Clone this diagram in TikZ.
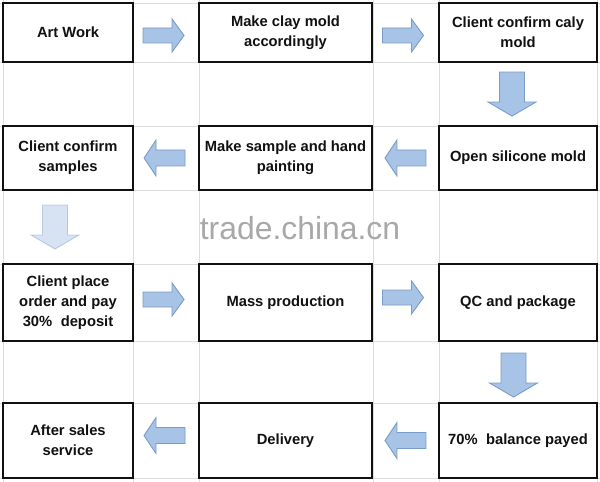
\documentclass[tikz,border=0pt]{standalone}
\usepackage{fontspec}
\setmainfont{Liberation Sans}
\usetikzlibrary{calc}
\definecolor{gridc}{HTML}{DCDCDC}
\definecolor{afill}{HTML}{A7C3E6}
\definecolor{aline}{HTML}{7A9CC9}
\definecolor{txt}{HTML}{111111}
\definecolor{wmc}{HTML}{A8A8A8}
\tikzset{
 stepbox/.style={draw=txt, line width=1.8bp, fill=white, rectangle, inner sep=0pt, align=center,
   font=\fontsize{14.8}{19.8}\selectfont\bfseries, text=txt},
 blockarrow/.style={fill=afill, draw=aline, line width=0.9bp, line join=miter},
 gridline/.style={draw=gridc, line width=0.8bp},
 rarrow/.pic={\path[blockarrow] (-20.5,-7.5) -- (8.5,-7.5) -- (8.5,-16.5) -- (20.5,0) -- (8.5,16.5) -- (8.5,7.5) -- (-20.5,7.5) -- cycle;},
 larrow/.pic={\path[blockarrow] (20.5,-8) -- (-8.5,-8) -- (-8.5,-18) -- (-20.5,0) -- (-8.5,18) -- (-8.5,8) -- (20.5,8) -- cycle;},
 darrow/.pic={\path[blockarrow] (-12.5,-22) -- (12.5,-22) -- (12.5,8) -- (24,8) -- (0,22) -- (-24,8) -- (-12.5,8) -- cycle;},
}
\begin{document}
\begin{tikzpicture}[x=1bp, y=-1bp]
\useasboundingbox (0,0) rectangle (600,482);
\fill[white] (0,0) rectangle (600,482);
% spreadsheet grid
\foreach \gx in {3,133,199,373,439,597} {\path[gridline] (\gx,0) -- (\gx,482);}
\foreach \gy in {3,62,126,190,264,341,403,478} {\path[gridline] (0,\gy) -- (600,\gy);}
% watermark
\node[anchor=base, text=wmc, font=\fontsize{32}{32}\selectfont, inner sep=0pt] (wm) at (300,240) {trade.china.cn};
% row 1
\node[stepbox, minimum width=130, minimum height=59] (a1) at (68,32.5) {Art Work};
\node[stepbox, minimum width=173, minimum height=59] (c1) at (285.5,32.5) {Make clay mold\\accordingly};
\node[stepbox, minimum width=158, minimum height=59] (d1) at (518,32.5) {Client confirm caly\\mold};
% row 2
\node[stepbox, minimum width=130, minimum height=64] (a2) at (68,158) {Client confirm\\samples};
\node[stepbox, minimum width=173, minimum height=64] (c2) at (285.5,158) {Make sample and hand\\painting};
\node[stepbox, minimum width=158, minimum height=64] (d2) at (518,158) {Open silicone mold};
% row 3
\node[stepbox, minimum width=130, minimum height=77] (a3) at (68,302.5) {Client place\\order and pay\\30\%\hspace{0.3em} deposit};
\node[stepbox, minimum width=173, minimum height=77] (c3) at (285.5,302.5) {Mass production};
\node[stepbox, minimum width=158, minimum height=77] (d3) at (518,302.5) {QC and package};
% row 4
\node[stepbox, minimum width=130, minimum height=75] (a4) at (68,440.5) {After sales\\service};
\node[stepbox, minimum width=173, minimum height=75] (c4) at (285.5,440.5) {Delivery};
\node[stepbox, minimum width=158, minimum height=75] (d4) at (518,440.5) {70\%\hspace{0.3em} balance payed};
% block arrows between steps
\pic at ($(a1.east)!0.5!(c1.west)+(-2.5,3)$) {rarrow};
\pic at ($(c1.east)!0.5!(d1.west)+(-2.5,3)$) {rarrow};
\pic at ($(d1.south)!0.5!(d2.north)+(-6,0)$) {darrow};
\pic at ($(d2.west)!0.5!(c2.east)$) {larrow};
\pic at ($(c2.west)!0.5!(a2.east)+(-1.5,0)$) {larrow};
\begin{scope}[opacity=0.45]
\pic at ($(a2.south)!0.5!(a3.north)+(-13,0)$) {darrow};
\end{scope}
\pic at ($(a3.east)!0.5!(c3.west)+(-2.5,-3)$) {rarrow};
\pic at ($(c3.east)!0.5!(d3.west)+(-2.5,-5)$) {rarrow};
\pic at ($(d3.south)!0.5!(d4.north)+(-4.5,3)$) {darrow};
\pic at ($(d4.west)!0.5!(c4.east)$) {larrow};
\pic at ($(c4.west)!0.5!(a4.east)+(-1.5,-5)$) {larrow};
\end{tikzpicture}
\end{document}
